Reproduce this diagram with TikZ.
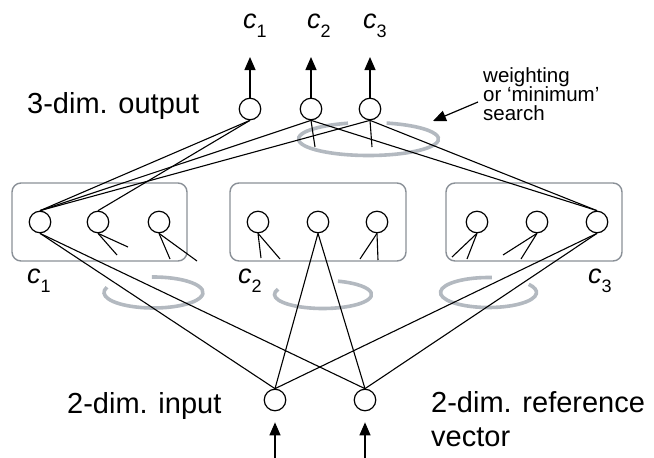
\documentclass[tikz,border=0pt]{standalone}
\usepackage{fontspec}
\setmainfont{Liberation Sans}
\usetikzlibrary{arrows.meta}
\definecolor{boxgray}{HTML}{8A9097}
\definecolor{ellgray}{HTML}{B3B9C0}
\tikzset{
  neuron/.style={circle,draw,line width=1.2pt,fill=white,minimum size=21.5pt,inner sep=0pt},
  conn/.style={line width=1.1pt},
  arr/.style={line width=1.2pt,-{Triangle[length=13pt,width=11pt]}},
  grp/.style={draw=boxgray,line width=1.4pt,rounded corners=9pt},
  ell/.style={draw=ellgray,line width=3.6pt},
  big/.style={font=\fontsize{29}{34}\selectfont,inner sep=0pt,anchor=base west},
  small/.style={font=\fontsize{20.5}{22}\selectfont,inner sep=0pt,anchor=base west},
  lab/.style={inner sep=0pt,anchor=base west}
}
\newcommand{\clab}[1]{{\fontsize{27}{30}\selectfont\itshape c}\raisebox{-9pt}{\fontsize{18}{20}\selectfont #1}}
\begin{document}
\begin{tikzpicture}[x=1pt,y=1pt]
\useasboundingbox (0,0) rectangle (654,-458);
% group boxes
\draw[grp] (12,-183) rectangle (187,-261);
\draw[grp] (230,-183) rectangle (406,-261);
\draw[grp] (446,-183) rectangle (622,-261);
% gray ellipses
\draw[ell] (368.5,-139) ++(107:70 and 16.5) arc[start angle=107,end angle=435,x radius=70,y radius=16.5];
\draw[ell] (153.5,-292.5) ++(160:49.5 and 15.5) arc[start angle=160,end angle=452,x radius=49.5,y radius=15.5];
\draw[ell] (323,-294.5) ++(158:48.5 and 14) arc[start angle=158,end angle=432,x radius=48.5,y radius=14];
\draw[ell] (488.5,-292.5) ++(86:48 and 15) arc[start angle=86,end angle=393,x radius=48,y radius=15];
% neurons
\node[neuron] (o1) at (250,-109) {};
\node[neuron] (o2) at (311,-109) {};
\node[neuron] (o3) at (370,-109) {};
\node[neuron] (h11) at (40,-222) {};
\node[neuron] (h12) at (98,-222) {};
\node[neuron] (h13) at (159,-222) {};
\node[neuron] (h21) at (258,-222) {};
\node[neuron] (h22) at (318,-222) {};
\node[neuron] (h23) at (377,-222) {};
\node[neuron] (h31) at (477,-222) {};
\node[neuron] (h32) at (537,-222) {};
\node[neuron] (h33) at (597,-222) {};
\node[neuron] (i1) at (275,-400) {};
\node[neuron] (i2) at (365,-400) {};
% free ends
\coordinate (t1) at (250,-57);
\coordinate (t2) at (311,-57);
\coordinate (t3) at (370,-57);
\coordinate (s1) at (275,-458);
\coordinate (s2) at (365,-458);
\coordinate (u2) at (315,-147);
\coordinate (u3) at (372,-147);
\coordinate (a1) at (117,-255); \coordinate (a2) at (128,-247);
\coordinate (b1) at (170,-259); \coordinate (b2) at (197,-261);
\coordinate (d1) at (261,-258); \coordinate (d2) at (280,-259);
\coordinate (e1) at (360,-259); \coordinate (e2) at (378,-260);
\coordinate (f1) at (452,-257); \coordinate (f2) at (467,-259);
\coordinate (g1) at (503,-255); \coordinate (g2) at (521,-259);
\coordinate (wt) at (478,-102);
\coordinate (wh) at (433,-121);
% connections output - hidden
\draw[conn] (o1.south) -- (h11.north);
\draw[conn] (o1.south) -- (h12.north);
\draw[conn] (o2.south) -- (h11.north);
\draw[conn] (o2.south) -- (h33.north);
\draw[conn] (o3.south) -- (h11.north);
\draw[conn] (o3.south) -- (h33.north);
\draw[conn] (o2.south) -- (u2);
\draw[conn] (o3.south) -- (u3);
% connections hidden - input
\draw[conn] (h11.south) -- (i1.north);
\draw[conn] (h11.south) -- (i2.north);
\draw[conn] (h22.south) -- (i1.north);
\draw[conn] (h22.south) -- (i2.north);
\draw[conn] (h33.south) -- (i1.north);
\draw[conn] (h33.south) -- (i2.north);
% stubs
\draw[conn] (h12.south) -- (a1); \draw[conn] (h12.south) -- (a2);
\draw[conn] (h13.south) -- (b1); \draw[conn] (h13.south) -- (b2);
\draw[conn] (h21.south) -- (d1); \draw[conn] (h21.south) -- (d2);
\draw[conn] (h23.south) -- (e1); \draw[conn] (h23.south) -- (e2);
\draw[conn] (h31.south) -- (f1); \draw[conn] (h31.south) -- (f2);
\draw[conn] (h32.south) -- (g1); \draw[conn] (h32.south) -- (g2);
% arrows
\draw[arr] (o1.north) -- (t1);
\draw[arr] (o2.north) -- (t2);
\draw[arr] (o3.north) -- (t3);
\draw[arr,shorten >=11pt] (s1) -- (i1.south);
\draw[arr,shorten >=11pt] (s2) -- (i2.south);
\draw[line width=1.2pt,-{Triangle[length=13pt,width=11pt]}] (wt) -- (wh);
% labels
\node[lab] (lc1) at (243,-28) {\clab{1}};
\node[lab] (lc2) at (307,-28) {\clab{2}};
\node[lab] (lc3) at (363,-28) {\clab{3}};
\node[lab] (bc1) at (27,-283) {\clab{1}};
\node[lab] (bc2) at (238,-283) {\clab{2}};
\node[lab] (bc3) at (588,-283) {\clab{3}};
\node[big] (out) at (27,-113) {3-dim. output};
\node[big] (inp) at (67,-413) {2-dim. input};
\node[big] (ref) at (431,-412) {2-dim. reference};
\node[big] (vec) at (431,-446) {vector};
\node[small] (w1) at (483,-82) {weighting};
\node[small] (w2) at (483,-101) {or ‘minimum’};
\node[small] (w3) at (483,-120) {search};
\end{tikzpicture}
\end{document}
